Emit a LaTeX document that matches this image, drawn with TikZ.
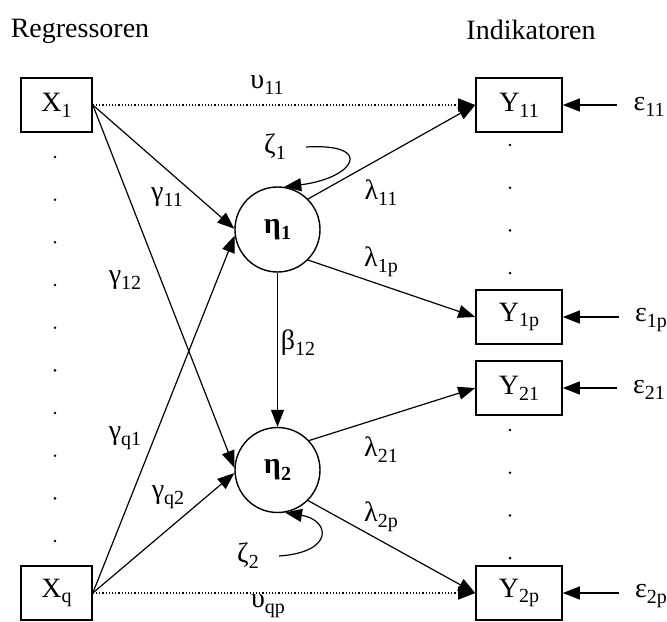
\documentclass[tikz,border=0pt]{standalone}
\usepackage{fontspec}
\setmainfont{Liberation Serif}
\usetikzlibrary{arrows.meta}

\newcommand{\lowsub}[1]{\raisebox{-0.45ex}{\fontsize{10}{10}\selectfont #1}}

\tikzset{
  box/.style={draw, line width=0.8pt, minimum width=35.5pt, minimum height=27pt, inner sep=0pt},
  ybox/.style={box, minimum width=43pt},
  latent/.style={circle, draw, line width=0.7pt, minimum size=42.5pt, inner sep=0pt},
  lbl/.style={inner sep=1pt},
  epslbl/.style={inner xsep=8pt, inner ysep=1pt},
  arr/.style={line width=0.6pt, -{Triangle[length=8.5pt,width=6.5pt]}},
}

\begin{document}
\begin{tikzpicture}[x=0.5pt, y=-0.5pt, font=\fontsize{14}{16}\selectfont]
  \useasboundingbox (0,0) rectangle (667,621);

  % Headings
  \node (hreg) at (80,31) {Regressoren};
  \node (hind) at (531,30) {Indikatoren};

  % Regressors
  \node[box] (x1) at (56.5,105) {X\lowsub{1}};
  \node[box] (xq) at (56.5,593) {X\lowsub{q}};
  \foreach \k in {0,...,9}
    \fill (55,{157+42.67*\k}) circle (0.7pt);

  % Latent variables
  \node[latent] (eta1) at (277.5,229.5) {\fontsize{15}{16}\selectfont\textbf{η}\lowsub{\textbf{1}}};
  \node[latent] (eta2) at (277.5,470) {\fontsize{15}{16}\selectfont\textbf{η}\lowsub{\textbf{2}}};

  % Indicators
  \node[ybox] (y11) at (519,105) {Y\lowsub{11}};
  \node[ybox] (y1p) at (519,317) {Y\lowsub{1p}};
  \node[ybox] (y21) at (519,388) {Y\lowsub{21}};
  \node[ybox] (y2p) at (519,593) {Y\lowsub{2p}};
  \foreach \k in {0,...,3} {
    \fill (510,{145+42.7*\k}) circle (0.7pt);
    \fill (510,{430+42.7*\k}) circle (0.7pt);
  }

  % Error terms
  \node[epslbl] (e11) at (649,107) {ε\lowsub{11}};
  \node[epslbl] (e1p) at (651,320) {ε\lowsub{1p}};
  \node[epslbl] (e21) at (649,390) {ε\lowsub{21}};
  \node[epslbl] (e2p) at (651,596) {ε\lowsub{2p}};
  \draw[arr] (e11.west |- y11.east) -- (y11.east);
  \draw[arr] (e1p.west |- y1p.east) -- (y1p.east);
  \draw[arr] (e21.west |- y21.east) -- (y21.east);
  \draw[arr] (e2p.west |- y2p.east) -- (y2p.east);

  % Direct paths (dotted)
  \draw[arr, densely dotted] (x1.east) -- (y11.west);
  \draw[arr, densely dotted] (xq.east) -- (y2p.west);
  \node[lbl] (u11) at (267,85) {υ\lowsub{11}};
  \node[lbl] (uqp) at (268,606) {υ\lowsub{qp}};

  % Regressors to latents
  \draw[arr] (x1.east) -- (eta1.179);
  \draw[arr] (x1.east) -- (eta2.177);
  \draw[arr] (xq.east) -- (eta1.188);
  \draw[arr] (xq.east) -- (eta2.184);
  \node[lbl] (g11) at (167,197) {γ\lowsub{11}};
  \node[lbl] (g12) at (125,280) {γ\lowsub{12}};
  \node[lbl] (gq1) at (125,438) {γ\lowsub{q1}};
  \node[lbl] (gq2) at (168,497) {γ\lowsub{q2}};

  % Structural path
  \draw[arr] (eta1) -- (eta2);
  \node[lbl] (b12) at (298,343) {β\lowsub{12}};

  % Loadings
  \draw[arr] (eta1.45) -- (y11.west);
  \draw[arr] (eta1.-45) -- (y1p.west);
  \draw[arr] (eta2.43) -- (y21.west);
  \draw[arr] (eta2.-45) -- (y2p.west);
  \node[lbl] (l11) at (381,193) {λ\lowsub{11}};
  \node[lbl] (l1p) at (381,262) {λ\lowsub{1p}};
  \node[lbl] (l21) at (381,450) {λ\lowsub{21}};
  \node[lbl] (l2p) at (381,517) {λ\lowsub{2p}};

  % Disturbances
  \node[inner xsep=10pt, inner ysep=1pt] (z1) at (275,147) {ζ\lowsub{1}};
  \node[inner xsep=10pt, inner ysep=1pt] (z2) at (248,556) {ζ\lowsub{2}};
  \draw[arr] (z1.east) .. controls (375,143) and (355,178) .. (eta1.81);
  \draw[arr] (z2.east) .. controls (335,552) and (330,520) .. (eta2.-80);
\end{tikzpicture}
\end{document}
